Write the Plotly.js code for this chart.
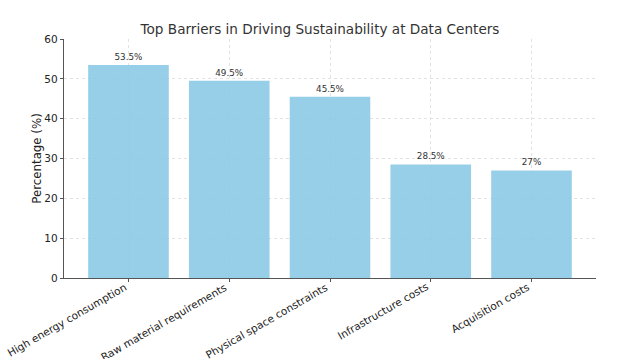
<!DOCTYPE html>
<html>
<head>
<meta charset="utf-8">
<script src="https://cdn.plot.ly/plotly-3.0.1.min.js"></script>
<style>html,body{margin:0;padding:0;background:#fff;}#chart{width:640px;height:359px;}</style>
</head>
<body>
<div id="chart"></div>
<script>
const categories = ["High energy consumption", "Raw material requirements", "Physical space constraints", "Infrastructure costs", "Acquisition costs"];
const values = [53.5, 49.5, 45.5, 28.5, 27];
const valueLabels = ["53.5%", "49.5%", "45.5%", "28.5%", "27%"];
const yTicks = [0, 10, 20, 30, 40, 50, 60];

const trace = {
  type: 'bar',
  x: categories,
  y: values,
  text: valueLabels,
  textposition: 'outside',
  cliponaxis: false,
  textfont: {family: 'DejaVu Sans', size: 8.8, color: '#333'},
  marker: {color: 'rgba(135,200,230,0.87)'},
  width: 0.8,
  hoverinfo: 'none'
};

const catLabels = categories.map(c => ({
  x: c, xref: 'x', y: 0, yref: 'y',
  text: c, showarrow: false,
  textangle: -30,
  xanchor: 'right', yanchor: 'top',
  yshift: 0, xshift: 2,
  font: {family: 'DejaVu Sans', size: 10.5, color: '#222'}
}));

const layout = {
  width: 640, height: 359,
  margin: {l: 64, r: 44, t: 39, b: 81},
  paper_bgcolor: '#fff', plot_bgcolor: '#fff',
  font: {family: 'DejaVu Sans', color: '#333'},
  title: {text: 'Top Barriers in Driving Sustainability at Data Centers', font: {size: 13.6, color: '#333'}, x: 0.5, xanchor: 'center', y: 0.919, yanchor: 'middle'},
  showlegend: false,
  bargap: 0.2,
  annotations: catLabels,
  xaxis: {
    range: [-0.64, 4.64],
    showticklabels: false,
    showline: true, linecolor: '#555', linewidth: 1.3,
    ticks: 'outside', ticklen: 3, tickcolor: '#555',
    showgrid: true, gridcolor: '#e2e2e2', griddash: 'dot', gridwidth: 1,
    zeroline: false
  },
  yaxis: {
    range: [0, 60],
    tickvals: yTicks,
    tickfont: {size: 10.5, color: '#222'},
    title: {text: 'Percentage (%)', font: {size: 11.8, color: '#222'}, standoff: 0},
    showline: true, linecolor: '#555', linewidth: 1.3,
    ticks: 'outside', ticklen: 3, tickcolor: '#555',
    showgrid: true, gridcolor: '#e2e2e2', griddash: 'dot', gridwidth: 1,
    zeroline: false
  }
};

Plotly.newPlot('chart', [trace], layout, {displayModeBar: false, staticPlot: true});
</script>
</body>
</html>
